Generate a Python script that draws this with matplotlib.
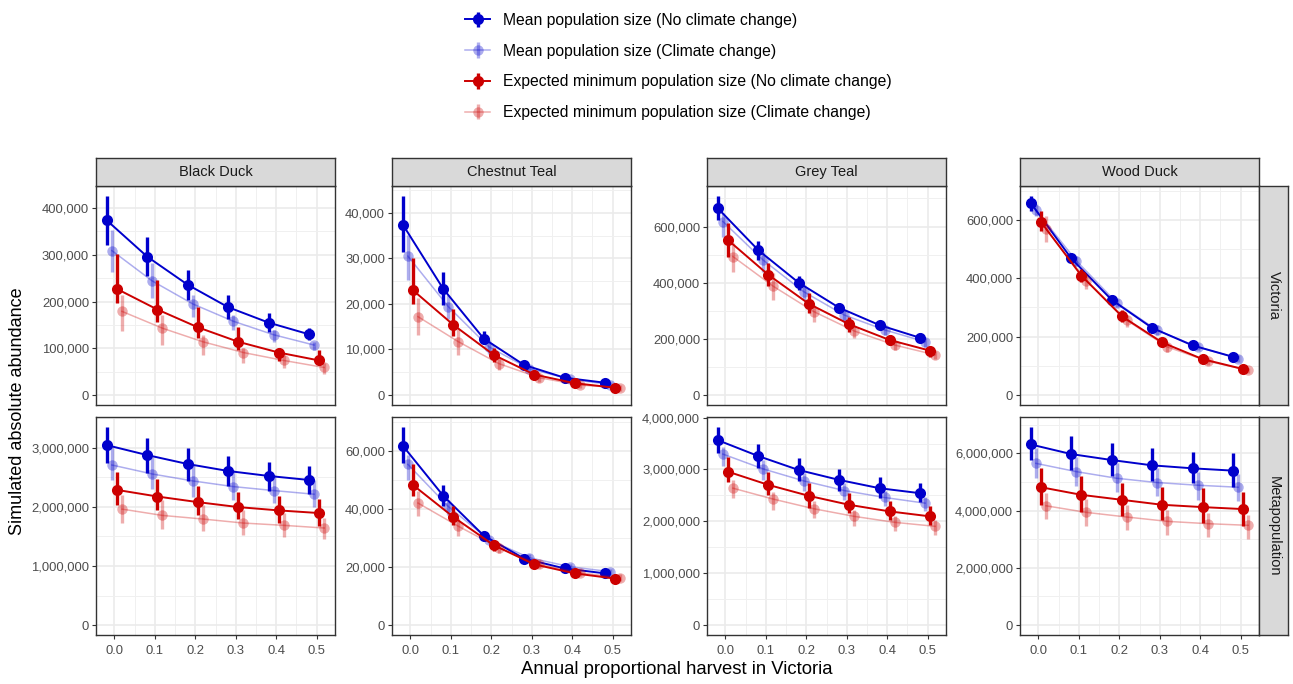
import matplotlib
matplotlib.use('Agg')
import matplotlib.pyplot as plt
from matplotlib.ticker import FixedLocator, MultipleLocator, FuncFormatter
import numpy as np

plt.rcParams['font.family'] = ['Liberation Sans', 'DejaVu Sans']

# ---------------- data ----------------
harvest = [0.0, 0.1, 0.2, 0.3, 0.4, 0.5]
species = ['Black Duck', 'Chestnut Teal', 'Grey Teal', 'Wood Duck']
regions = ['Victoria', 'Metapopulation']
series_labels = ['Mean population size (No climate change)',
                 'Mean population size (Climate change)',
                 'Expected minimum population size (No climate change)',
                 'Expected minimum population size (Climate change)']

# Black Duck - Victoria
bd_vic_mean_nocc = [373600, 296000, 236000, 188000, 155000, 130000]
bd_vic_mean_nocc_lo = [321000, 254000, 204000, 163000, 134000, 118000]
bd_vic_mean_nocc_hi = [426000, 339000, 268000, 214000, 176000, 144000]
bd_vic_mean_cc = [309000, 244000, 195000, 158000, 129000, 107000]
bd_vic_mean_cc_lo = [264000, 207000, 168000, 139000, 114000, 96000]
bd_vic_mean_cc_hi = [354000, 282000, 214000, 171000, 139000, 114000]
bd_vic_min_nocc = [227000, 183000, 145000, 114000, 91000, 74000]
bd_vic_min_nocc_lo = [196000, 157000, 121000, 96000, 72000, 64000]
bd_vic_min_nocc_hi = [301000, 246000, 189000, 146000, 101000, 96000]
bd_vic_min_cc = [179000, 143000, 114000, 91000, 74000, 59000]
bd_vic_min_cc_lo = [136000, 107000, 86000, 68000, 57000, 46000]
bd_vic_min_cc_hi = [214000, 171000, 129000, 100000, 86000, 68000]

# Chestnut Teal - Victoria
ct_vic_mean_nocc = [37400, 23300, 12400, 6600, 3800, 2700]
ct_vic_mean_nocc_lo = [31400, 19700, 11300, 5800, 3200, 2200]
ct_vic_mean_nocc_hi = [43700, 26900, 14000, 7300, 4400, 3300]
ct_vic_mean_cc = [30500, 19400, 10600, 5800, 3500, 2300]
ct_vic_mean_cc_lo = [25200, 16800, 9100, 5100, 2900, 1800]
ct_vic_mean_cc_hi = [35100, 21900, 12100, 6600, 4000, 2900]
ct_vic_min_nocc = [23000, 15400, 8800, 4500, 2600, 1600]
ct_vic_min_nocc_lo = [19900, 13000, 7300, 3700, 1800, 1100]
ct_vic_min_nocc_hi = [30100, 18900, 10400, 5500, 3300, 2300]
ct_vic_min_cc = [17200, 11700, 6900, 3800, 2200, 1600]
ct_vic_min_cc_lo = [13200, 8800, 5500, 2900, 1500, 900]
ct_vic_min_cc_hi = [21200, 14600, 8400, 4800, 2900, 2200]

# Grey Teal - Victoria
gt_vic_mean_nocc = [665000, 516000, 400000, 311000, 249000, 204000]
gt_vic_mean_nocc_lo = [623000, 481000, 374000, 295000, 232000, 190000]
gt_vic_mean_nocc_hi = [709000, 549000, 424000, 327000, 264000, 220000]
gt_vic_mean_cc = [618000, 480000, 368000, 285000, 232000, 190000]
gt_vic_mean_cc_lo = [564000, 439000, 338000, 261000, 214000, 172000]
gt_vic_mean_cc_hi = [647000, 511000, 392000, 303000, 249000, 202000]
gt_vic_min_nocc = [552000, 428000, 325000, 252000, 196000, 158000]
gt_vic_min_nocc_lo = [493000, 390000, 291000, 226000, 178000, 137000]
gt_vic_min_nocc_hi = [612000, 469000, 362000, 279000, 214000, 169000]
gt_vic_min_cc = [493000, 387000, 297000, 228000, 178000, 143000]
gt_vic_min_cc_lo = [439000, 338000, 261000, 202000, 160000, 128000]
gt_vic_min_cc_hi = [540000, 434000, 321000, 249000, 192000, 157000]

# Wood Duck - Victoria
wd_vic_mean_nocc = [657000, 468000, 326000, 230000, 170000, 131000]
wd_vic_mean_nocc_lo = [631000, 455000, 313000, 216000, 159000, 119000]
wd_vic_mean_nocc_hi = [682000, 483000, 341000, 244000, 182000, 142000]
wd_vic_mean_cc = [634000, 460000, 316000, 222000, 165000, 125000]
wd_vic_mean_cc_lo = [614000, 443000, 301000, 205000, 153000, 114000]
wd_vic_mean_cc_hi = [653000, 477000, 330000, 239000, 176000, 136000]
wd_vic_min_nocc = [593000, 409000, 270000, 180000, 123000, 89000]
wd_vic_min_nocc_lo = [563000, 386000, 250000, 163000, 111000, 80000]
wd_vic_min_nocc_hi = [631000, 432000, 290000, 193000, 134000, 97000]
wd_vic_min_cc = [568000, 392000, 256000, 165000, 116000, 85000]
wd_vic_min_cc_lo = [523000, 364000, 233000, 148000, 102000, 74000]
wd_vic_min_cc_hi = [614000, 415000, 273000, 182000, 127000, 93000]

# Black Duck - Metapopulation
bd_meta_mean_nocc = [3045000, 2877000, 2726000, 2608000, 2524000, 2456000]
bd_meta_mean_nocc_lo = [2748000, 2580000, 2440000, 2356000, 2277000, 2221000]
bd_meta_mean_nocc_hi = [3354000, 3158000, 2989000, 2866000, 2765000, 2692000]
bd_meta_mean_cc = [2709000, 2557000, 2440000, 2344000, 2277000, 2215000]
bd_meta_mean_cc_lo = [2456000, 2300000, 2176000, 2120000, 2064000, 1997000]
bd_meta_mean_cc_hi = [3017000, 2849000, 2709000, 2625000, 2541000, 2456000]
bd_meta_min_nocc = [2288000, 2176000, 2081000, 1997000, 1941000, 1896000]
bd_meta_min_nocc_lo = [2040000, 1941000, 1868000, 1795000, 1727000, 1683000]
bd_meta_min_nocc_hi = [2597000, 2468000, 2356000, 2260000, 2193000, 2131000]
bd_meta_min_cc = [1963000, 1856000, 1795000, 1727000, 1688000, 1643000]
bd_meta_min_cc_lo = [1727000, 1626000, 1587000, 1531000, 1492000, 1458000]
bd_meta_min_cc_hi = [2204000, 2120000, 2036000, 1952000, 1896000, 1812000]

# Chestnut Teal - Metapopulation
ct_meta_mean_nocc = [61700, 44500, 30800, 22900, 19500, 17800]
ct_meta_mean_nocc_lo = [55700, 41100, 29400, 21700, 18500, 16700]
ct_meta_mean_nocc_hi = [68200, 48100, 32200, 24000, 20500, 18900]
ct_meta_mean_cc = [55300, 40800, 29400, 23200, 20100, 18400]
ct_meta_mean_cc_lo = [50000, 38000, 28100, 22000, 18900, 17200]
ct_meta_mean_cc_hi = [58500, 43100, 30800, 24300, 21100, 19400]
ct_meta_min_nocc = [48200, 37200, 27500, 20900, 17800, 16000]
ct_meta_min_nocc_lo = [44300, 34600, 25400, 19700, 16700, 14800]
ct_meta_min_nocc_hi = [55300, 41100, 29400, 22000, 18900, 17100]
ct_meta_min_cc = [42000, 34000, 26600, 20900, 18000, 16300]
ct_meta_min_cc_lo = [37600, 30600, 24900, 19700, 16900, 15200]
ct_meta_min_cc_hi = [46000, 36800, 28300, 22400, 19200, 17500]

# Grey Teal - Metapopulation
gt_meta_mean_nocc = [3565000, 3259000, 2990000, 2799000, 2639000, 2543000]
gt_meta_mean_nocc_lo = [3323000, 3035000, 2780000, 2594000, 2447000, 2364000]
gt_meta_mean_nocc_hi = [3821000, 3482000, 3214000, 3003000, 2850000, 2735000]
gt_meta_mean_cc = [3297000, 3010000, 2780000, 2594000, 2460000, 2351000]
gt_meta_mean_cc_lo = [3067000, 2799000, 2594000, 2415000, 2288000, 2192000]
gt_meta_mean_cc_hi = [3438000, 3182000, 2927000, 2748000, 2594000, 2479000]
gt_meta_min_nocc = [2958000, 2703000, 2492000, 2319000, 2192000, 2096000]
gt_meta_min_nocc_lo = [2767000, 2511000, 2256000, 2160000, 2032000, 1936000]
gt_meta_min_nocc_hi = [3246000, 2958000, 2735000, 2543000, 2383000, 2300000]
gt_meta_min_cc = [2639000, 2428000, 2243000, 2096000, 1981000, 1904000]
gt_meta_min_cc_lo = [2447000, 2224000, 2064000, 1917000, 1808000, 1744000]
gt_meta_min_cc_hi = [2799000, 2575000, 2383000, 2224000, 2109000, 2032000]

# Wood Duck - Metapopulation
wd_meta_mean_nocc = [6315000, 5979000, 5771000, 5585000, 5481000, 5400000]
wd_meta_mean_nocc_lo = [5771000, 5423000, 5214000, 5052000, 4959000, 4844000]
wd_meta_mean_nocc_hi = [6929000, 6616000, 6350000, 6199000, 6060000, 6002000]
wd_meta_mean_cc = [5655000, 5365000, 5133000, 4983000, 4890000, 4820000]
wd_meta_mean_cc_lo = [5133000, 4867000, 4670000, 4496000, 4380000, 4322000]
wd_meta_mean_cc_hi = [6176000, 5887000, 5655000, 5481000, 5365000, 5284000]
wd_meta_min_nocc = [4820000, 4554000, 4380000, 4206000, 4125000, 4056000]
wd_meta_min_nocc_lo = [4206000, 3940000, 3801000, 3662000, 3569000, 3476000]
wd_meta_min_nocc_hi = [5481000, 5214000, 4959000, 4844000, 4786000, 4670000]
wd_meta_min_cc = [4171000, 3940000, 3778000, 3627000, 3546000, 3488000]
wd_meta_min_cc_lo = [3708000, 3476000, 3314000, 3163000, 3082000, 3013000]
wd_meta_min_cc_hi = [4612000, 4403000, 4206000, 4032000, 3916000, 3859000]

panels = {
    ('Black Duck', 'Victoria'): [(bd_vic_mean_nocc, bd_vic_mean_nocc_lo, bd_vic_mean_nocc_hi),
                                 (bd_vic_mean_cc, bd_vic_mean_cc_lo, bd_vic_mean_cc_hi),
                                 (bd_vic_min_nocc, bd_vic_min_nocc_lo, bd_vic_min_nocc_hi),
                                 (bd_vic_min_cc, bd_vic_min_cc_lo, bd_vic_min_cc_hi)],
    ('Chestnut Teal', 'Victoria'): [(ct_vic_mean_nocc, ct_vic_mean_nocc_lo, ct_vic_mean_nocc_hi),
                                    (ct_vic_mean_cc, ct_vic_mean_cc_lo, ct_vic_mean_cc_hi),
                                    (ct_vic_min_nocc, ct_vic_min_nocc_lo, ct_vic_min_nocc_hi),
                                    (ct_vic_min_cc, ct_vic_min_cc_lo, ct_vic_min_cc_hi)],
    ('Grey Teal', 'Victoria'): [(gt_vic_mean_nocc, gt_vic_mean_nocc_lo, gt_vic_mean_nocc_hi),
                                (gt_vic_mean_cc, gt_vic_mean_cc_lo, gt_vic_mean_cc_hi),
                                (gt_vic_min_nocc, gt_vic_min_nocc_lo, gt_vic_min_nocc_hi),
                                (gt_vic_min_cc, gt_vic_min_cc_lo, gt_vic_min_cc_hi)],
    ('Wood Duck', 'Victoria'): [(wd_vic_mean_nocc, wd_vic_mean_nocc_lo, wd_vic_mean_nocc_hi),
                                (wd_vic_mean_cc, wd_vic_mean_cc_lo, wd_vic_mean_cc_hi),
                                (wd_vic_min_nocc, wd_vic_min_nocc_lo, wd_vic_min_nocc_hi),
                                (wd_vic_min_cc, wd_vic_min_cc_lo, wd_vic_min_cc_hi)],
    ('Black Duck', 'Metapopulation'): [(bd_meta_mean_nocc, bd_meta_mean_nocc_lo, bd_meta_mean_nocc_hi),
                                       (bd_meta_mean_cc, bd_meta_mean_cc_lo, bd_meta_mean_cc_hi),
                                       (bd_meta_min_nocc, bd_meta_min_nocc_lo, bd_meta_min_nocc_hi),
                                       (bd_meta_min_cc, bd_meta_min_cc_lo, bd_meta_min_cc_hi)],
    ('Chestnut Teal', 'Metapopulation'): [(ct_meta_mean_nocc, ct_meta_mean_nocc_lo, ct_meta_mean_nocc_hi),
                                          (ct_meta_mean_cc, ct_meta_mean_cc_lo, ct_meta_mean_cc_hi),
                                          (ct_meta_min_nocc, ct_meta_min_nocc_lo, ct_meta_min_nocc_hi),
                                          (ct_meta_min_cc, ct_meta_min_cc_lo, ct_meta_min_cc_hi)],
    ('Grey Teal', 'Metapopulation'): [(gt_meta_mean_nocc, gt_meta_mean_nocc_lo, gt_meta_mean_nocc_hi),
                                      (gt_meta_mean_cc, gt_meta_mean_cc_lo, gt_meta_mean_cc_hi),
                                      (gt_meta_min_nocc, gt_meta_min_nocc_lo, gt_meta_min_nocc_hi),
                                      (gt_meta_min_cc, gt_meta_min_cc_lo, gt_meta_min_cc_hi)],
    ('Wood Duck', 'Metapopulation'): [(wd_meta_mean_nocc, wd_meta_mean_nocc_lo, wd_meta_mean_nocc_hi),
                                      (wd_meta_mean_cc, wd_meta_mean_cc_lo, wd_meta_mean_cc_hi),
                                      (wd_meta_min_nocc, wd_meta_min_nocc_lo, wd_meta_min_nocc_hi),
                                      (wd_meta_min_cc, wd_meta_min_cc_lo, wd_meta_min_cc_hi)],
}

# y tick spacing per panel (axis style)
y_steps = {
    ('Black Duck', 'Victoria'): 100000, ('Chestnut Teal', 'Victoria'): 10000,
    ('Grey Teal', 'Victoria'): 200000, ('Wood Duck', 'Victoria'): 200000,
    ('Black Duck', 'Metapopulation'): 1000000, ('Chestnut Teal', 'Metapopulation'): 20000,
    ('Grey Teal', 'Metapopulation'): 1000000, ('Wood Duck', 'Metapopulation'): 2000000,
}

# ---------------- style ----------------
BLUE = '#0000CC'
RED = '#CC0000'
series_style = [
    dict(color=BLUE, alpha=1.0, ms=8.0, lw=1.4, elw=2.4),
    dict(color=BLUE, alpha=0.32, ms=7.5, lw=1.1, elw=2.4),
    dict(color=RED, alpha=1.0, ms=8.0, lw=1.4, elw=2.4),
    dict(color=RED, alpha=0.32, ms=7.5, lw=1.1, elw=2.4),
]
dodge = [-0.01875, -0.00625, 0.00625, 0.01875]
draw_order = [3, 1, 2, 0]

W, H = 1293, 684
fig = plt.figure(figsize=(W / 100, H / 100), dpi=100)


def px_axes(x0, y0, x1, y1):
    return fig.add_axes([x0 / W, 1 - y1 / H, (x1 - x0) / W, (y1 - y0) / H])


lefts = [96, 392, 707, 1020]
pw = 239
row_y = [(186, 405), (417, 635)]
BORDER = '#333333'
fmt = FuncFormatter(lambda v, p: '{:,.0f}'.format(v) if abs(v) > 0.5 else '0')

handles = [None] * 4
for r, region in enumerate(regions):
    for c, sp in enumerate(species):
        ax = px_axes(lefts[c], row_y[r][0], lefts[c] + pw, row_y[r][1])
        data = panels[(sp, region)]
        for k in draw_order:
            mid, lo, hi = [np.asarray(a, dtype=float) for a in data[k]]
            st = series_style[k]
            xs = np.asarray(harvest) + dodge[k]
            eb = ax.errorbar(xs, mid, yerr=[mid - lo, hi - mid], fmt='-o',
                             color=st['color'], alpha=st['alpha'], ms=st['ms'],
                             lw=st['lw'], elinewidth=st['elw'], capsize=0,
                             markeredgewidth=0, zorder=3 + k * 0.1)
            if handles[k] is None:
                handles[k] = eb
        ymax = max(max(h) for (_, _, h) in data)
        ax.set_ylim(-0.05 * ymax, 1.05 * ymax)
        ax.set_xlim(-0.0456, 0.5456)
        step = y_steps[(sp, region)]
        ax.yaxis.set_major_locator(MultipleLocator(step))
        ax.yaxis.set_minor_locator(MultipleLocator(step / 2))
        ax.yaxis.set_major_formatter(fmt)
        ax.xaxis.set_major_locator(FixedLocator(harvest))
        ax.xaxis.set_minor_locator(FixedLocator([0.05, 0.15, 0.25, 0.35, 0.45]))
        ax.xaxis.set_major_formatter(FuncFormatter(lambda v, p: '{:.1f}'.format(v)))
        ax.grid(which='major', color='#EBEBEB', lw=1.2, zorder=0)
        ax.grid(which='minor', color='#F0F0F0', lw=0.7, zorder=0)
        ax.set_axisbelow(True)
        ax.tick_params(which='minor', length=0)
        ax.tick_params(which='major', length=3, width=0.8, color=BORDER,
                       labelcolor='#4D4D4D', labelsize=9.4, pad=2)
        ax.tick_params(axis='x', pad=4)
        if r == 0:
            ax.tick_params(axis='x', which='both', bottom=False, labelbottom=False)
        for s in ax.spines.values():
            s.set_color(BORDER)
            s.set_linewidth(1.0)
        if r == 0:
            sax = px_axes(lefts[c], 158, lefts[c] + pw, 186)
            sax.set_facecolor('#D9D9D9')
            sax.set_xticks([]); sax.set_yticks([])
            for s in sax.spines.values():
                s.set_color(BORDER); s.set_linewidth(1.0)
            sax.text(0.5, 0.5, sp, ha='center', va='center', fontsize=10.5,
                     color='#1A1A1A', transform=sax.transAxes)
        if c == 3:
            rax = px_axes(1259, row_y[r][0], 1288, row_y[r][1])
            rax.set_facecolor('#D9D9D9')
            rax.set_xticks([]); rax.set_yticks([])
            for s in rax.spines.values():
                s.set_color(BORDER); s.set_linewidth(1.0)
            rax.text(0.5, 0.5, region, ha='center', va='center', fontsize=10.5,
                     color='#1A1A1A', rotation=-90, transform=rax.transAxes)

fig.text(18 / W, 1 - 411 / H, 'Simulated absolute abundance', rotation=90,
         ha='center', va='center', fontsize=13, color='black')
fig.text(677 / W, 1 - 670 / H, 'Annual proportional harvest in Victoria',
         ha='center', va='center', fontsize=13.3, color='black')

fig.legend(handles, series_labels, loc='upper left', bbox_to_anchor=(454 / W, 1 - 2 / H),
           frameon=False, fontsize=11.3, handlelength=1.6, handletextpad=0.85,
           labelspacing=1.0, borderpad=0.2, markerscale=1.0)

fig.savefig('out.png', dpi=100)
